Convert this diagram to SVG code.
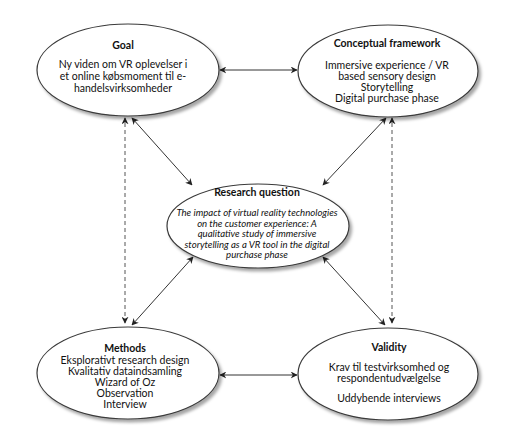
<svg xmlns="http://www.w3.org/2000/svg" width="514" height="436" viewBox="0 0 514 436">
<style>
.node{fill:#fff;stroke:#3a3a3a;stroke-width:1.2;filter:url(#sh)}
.t{font-family:Lato,"Liberation Sans",sans-serif;font-size:10.5px;fill:#111;text-anchor:middle}
.b{font-weight:bold}
.i{font-style:italic;font-size:9.6px}
.c{stroke:#333;stroke-width:1;fill:none;marker-start:url(#a);marker-end:url(#a)}
.d{stroke-dasharray:4,3;stroke:#555}
</style>
<defs>
<filter id="sh" x="-10%" y="-10%" width="125%" height="130%">
<feDropShadow dx="2.5" dy="3" stdDeviation="1.5" flood-color="#000" flood-opacity="0.35"/>
</filter>
<marker id="a" viewBox="0 0 10 10" refX="9" refY="5" markerWidth="7" markerHeight="7" orient="auto-start-reverse" markerUnits="userSpaceOnUse">
<path d="M0,0 L10,5 L0,10 L3,5 Z" fill="#222"/>
</marker>
</defs>
<rect width="514" height="436" fill="#fff"/>
<g id="connectors">
<line class="c" x1="220" y1="70" x2="297" y2="70"/>
<line class="c" x1="220" y1="375" x2="297" y2="375"/>
<line class="c d" x1="125" y1="323" x2="125" y2="118"/>
<line class="c d" x1="392" y1="323" x2="392" y2="118"/>
<line class="c" x1="132" y1="118" x2="192" y2="185"/>
<line class="c" x1="386" y1="118" x2="323" y2="185"/>
<line class="c" x1="193" y1="257" x2="132" y2="325"/>
<line class="c" x1="323" y1="257" x2="385" y2="325"/>
</g>
<g id="goal">
<ellipse class="node" cx="128" cy="70" rx="91" ry="46"/>
<text class="t b" x="123" y="49">Goal</text>
<text class="t" x="123" y="68">Ny viden om VR oplevelser i</text>
<text class="t" x="123" y="80">et online købsmoment  til e-</text>
<text class="t" x="123" y="92">handelsvirksomheder</text>
</g>
<g id="conceptual">
<ellipse class="node" cx="388" cy="71" rx="90" ry="46"/>
<text class="t b" x="387" y="47">Conceptual framework</text>
<text class="t" x="387" y="69">Immersive experience / VR</text>
<text class="t" x="387" y="80">based sensory design</text>
<text class="t" x="387" y="91">Storytelling</text>
<text class="t" x="387" y="102">Digital purchase phase</text>
</g>
<g id="research">
<ellipse class="node" cx="258" cy="226" rx="91" ry="42"/>
<text class="t b" x="257" y="196">Research question</text>
<text class="t i" x="257" y="216">The impact of virtual reality technologies</text>
<text class="t i" x="257" y="226.5">on the customer experience: A</text>
<text class="t i" x="257" y="237">qualitative study of immersive</text>
<text class="t i" x="257" y="247.5">storytelling as a VR tool in the digital</text>
<text class="t i" x="257" y="258">purchase phase</text>
</g>
<g id="methods">
<ellipse class="node" cx="128" cy="373" rx="91" ry="46"/>
<text class="t b" x="125" y="352">Methods</text>
<text class="t" x="125" y="364">Eksplorativt research design</text>
<text class="t" x="125" y="375">Kvalitativ dataindsamling</text>
<text class="t" x="125" y="386">Wizard of Oz</text>
<text class="t" x="125" y="397">Observation</text>
<text class="t" x="125" y="408">Interview</text>
</g>
<g id="validity">
<ellipse class="node" cx="388" cy="374" rx="90" ry="46"/>
<text class="t b" x="389" y="351">Validity</text>
<text class="t" x="389" y="371">Krav til testvirksomhed og</text>
<text class="t" x="389" y="382">respondentudvælgelse</text>
<text class="t" x="389" y="402">Uddybende interviews</text>
</g>
</svg>
